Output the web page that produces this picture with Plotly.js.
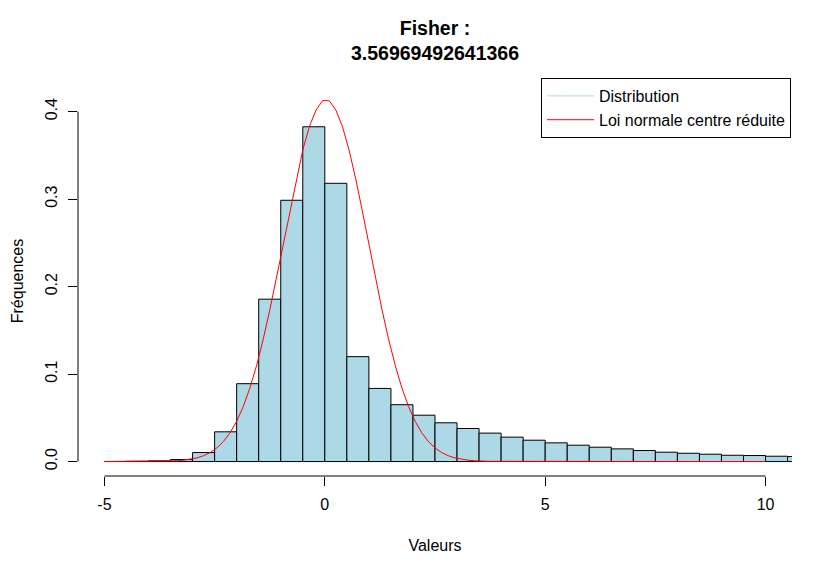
<!DOCTYPE html>
<html>
<head>
<meta charset="utf-8">
<script src="https://cdn.plot.ly/plotly-3.0.1.min.js"></script>
<style>html,body{margin:0;padding:0;background:#fff;}#chart{width:832px;height:574px;}</style>
</head>
<body>
<div id="chart"></div>
<script>
// Histogram bins (left edges, width 0.5) and relative frequencies
const binStart = [-5, -4.5, -4, -3.5, -3, -2.5, -2, -1.5, -1, -0.5, 0, 0.5, 1, 1.5, 2, 2.5, 3, 3.5, 4, 4.5, 5, 5.5, 6, 6.5, 7, 7.5, 8, 8.5, 9, 9.5, 10, 10.5];
const freq = [0.0001, 0.0003, 0.0008, 0.0023, 0.0103, 0.034, 0.089, 0.1856, 0.2986, 0.3826, 0.318, 0.1199, 0.0836, 0.065, 0.053, 0.0443, 0.0378, 0.0325, 0.0279, 0.0244, 0.0214, 0.0187, 0.0164, 0.0145, 0.0126, 0.0107, 0.0095, 0.0084, 0.0072, 0.0069, 0.0061, 0.0057];

// Red normal curve
const curveX = [-5, -3.65, -3.5, -3.35, -3.2, -3.05, -2.9, -2.75, -2.6, -2.45, -2.3, -2.15, -2.0, -1.85, -1.7, -1.55, -1.4, -1.25, -1.1, -0.95, -0.8, -0.65, -0.5, -0.35, -0.2, -0.05, 0.1, 0.25, 0.4, 0.55, 0.7, 0.85, 1.0, 1.15, 1.3, 1.45, 1.6, 1.75, 1.9, 2.05, 2.2, 2.35, 2.5, 2.65, 2.8, 2.95, 3.1, 3.25, 3.4, 3.55, 3.7, 10];
const curveY = [0, 0.0003, 0.0005, 0.0009, 0.0016, 0.0026, 0.0042, 0.0067, 0.0103, 0.0156, 0.0229, 0.0329, 0.046, 0.0629, 0.084, 0.1094, 0.1392, 0.1729, 0.2097, 0.2482, 0.2867, 0.3234, 0.3561, 0.3828, 0.4017, 0.4125, 0.4125, 0.4017, 0.3828, 0.3561, 0.3234, 0.2867, 0.2482, 0.2097, 0.1729, 0.1392, 0.1094, 0.084, 0.0629, 0.046, 0.0329, 0.0229, 0.0156, 0.0103, 0.0067, 0.0042, 0.0026, 0.0016, 0.0009, 0.0005, 0.0003, 0];

// Axis ticks
const xTicks = [-5, 0, 5, 10];
const xTickText = ["-5", "0", "5", "10"];
const yTicks = [0, 0.1, 0.2, 0.3, 0.4];
const yTickText = ["0.0", "0.1", "0.2", "0.3", "0.4"];

const titleText = "Fisher :<br>3.56969492641366";
const legendNames = ["Distribution", "Loi normale centre réduite"];

const FONT = "Liberation Sans, Arial, Helvetica, sans-serif";

const traces = [
  {
    type: "bar",
    x: binStart,
    y: freq,
    offset: 0,
    width: 0.5,
    marker: {color: "#ADD8E6", line: {color: "#000000", width: 1}},
    showlegend: false,
    hoverinfo: "skip"
  },
  {
    type: "scatter",
    mode: "lines",
    x: [null],
    y: [null],
    name: legendNames[0],
    line: {color: "#ADD8E6", width: 1}
  },
  {
    type: "scatter",
    mode: "lines",
    x: curveX,
    y: curveY,
    name: legendNames[1],
    line: {color: "#FF0000", width: 1}
  }
];

const layout = {
  width: 832,
  height: 574,
  margin: {l: 78, r: 40, t: 86, b: 98, pad: 0},
  paper_bgcolor: "#ffffff",
  plot_bgcolor: "#ffffff",
  font: {family: FONT, size: 16, color: "#000"},
  bargap: 0,
  title: {
    text: titleText,
    font: {family: FONT, size: 19.5, color: "#000", weight: "bold"},
    x: 0.5, xref: "paper", xanchor: "center",
    y: 1 - 34.5 / 574, yref: "container", yanchor: "middle"
  },
  xaxis: {
    range: [-5.6, 10.6],
    tickvals: xTicks,
    ticktext: xTickText,
    ticks: "outside",
    ticklen: 9,
    tickwidth: 1,
    tickcolor: "#000",
    ticklabelstandoff: 5,
    showline: false,
    showgrid: false,
    zeroline: false,
    tickfont: {size: 16},
    title: {text: "Valeurs", font: {size: 16}, standoff: 27},
    fixedrange: true
  },
  yaxis: {
    range: [-0.0165, 0.4292],
    tickvals: yTicks,
    ticktext: yTickText,
    tickangle: -90,
    ticks: "outside",
    ticklen: 9,
    tickwidth: 1,
    tickcolor: "#000",
    ticklabelstandoff: 5,
    showline: false,
    showgrid: false,
    zeroline: false,
    tickfont: {size: 16},
    title: {text: "Fréquences", font: {size: 16}, standoff: 14},
    fixedrange: true
  },
  shapes: [
    {type: "line", xref: "x", yref: "paper", x0: xTicks[0], x1: xTicks[xTicks.length - 1], y0: 0, y1: 0, line: {color: "#000", width: 1}},
    {type: "line", xref: "paper", yref: "y", x0: 0, x1: 0, y0: yTicks[0], y1: yTicks[yTicks.length - 1], line: {color: "#000", width: 1}}
  ],
  legend: {
    x: 0.9986, xanchor: "right",
    y: 1.0205, yanchor: "top",
    bgcolor: "#ffffff",
    bordercolor: "#000",
    borderwidth: 1,
    font: {size: 16},
    itemwidth: 47,
    traceorder: "normal"
  },
  showlegend: true
};

Plotly.newPlot("chart", traces, layout, {displayModeBar: false, staticPlot: true});
</script>
</body>
</html>
